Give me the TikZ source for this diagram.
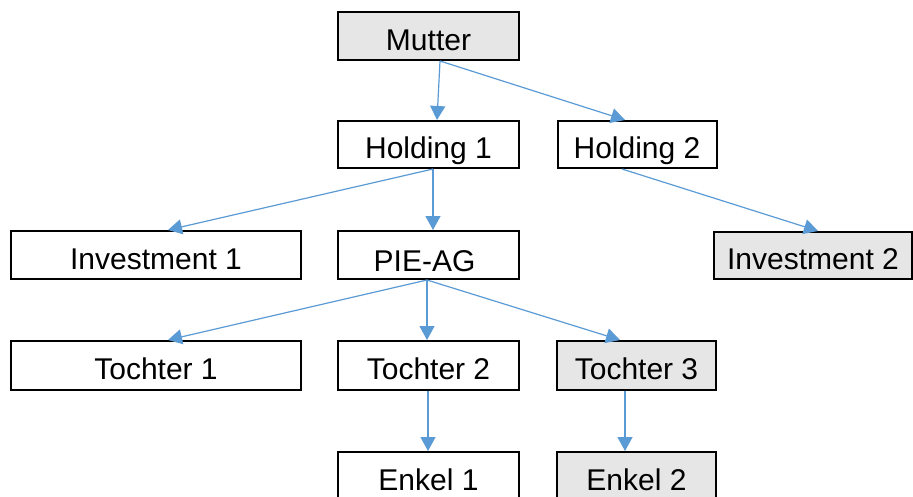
\documentclass[tikz,border=0pt]{standalone}
\usepackage{fontspec}
\setmainfont{Liberation Sans}
\usetikzlibrary{arrows.meta}
\definecolor{boxgray}{HTML}{E6E6E6}
\definecolor{linkblue}{HTML}{5B9BD5}
\tikzset{
  box/.style={draw=black, line width=2pt, inner sep=0pt, font=\fontsize{30}{30}\selectfont,
    text height=28pt, text depth=0pt, minimum height=47pt},
  unit/.style={box, fill=white},
  shaded/.style={box, fill=boxgray},
  link/.style={draw=linkblue, line width=1.2pt, -{Triangle[length=14pt,width=15pt]}}
}
\begin{document}
\begin{tikzpicture}[x=1pt,y=-1pt]
\useasboundingbox (0,0) rectangle (913,496);
\clip (0,0) rectangle (913,496);
\fill[white] (0,0) rectangle (913,496);
% company boxes
\node[shaded, minimum width=181pt, minimum height=48pt] (mutter) at (428.5,36) {Mutter};
\node[unit, minimum width=181pt] (h1) at (428.5,144.5) {Holding 1};
\node[unit, minimum width=159pt] (h2) at (637,144.5) {Holding 2};
\node[unit, minimum width=290pt, minimum height=48pt] (inv1) at (156,255) {Investment 1};
\node[unit, minimum width=181pt, minimum height=48pt] (pie) at (428.5,255) {\raisebox{-2pt}{PIE-AG}\hspace*{8pt}};
\node[shaded, minimum width=198pt] (inv2) at (813,255.5) {Investment 2};
\node[unit, minimum width=290pt, minimum height=49pt] (t1) at (156,365.5) {Tochter 1};
\node[unit, minimum width=181pt, minimum height=49pt] (t2) at (428.5,365.5) {Tochter 2};
\node[shaded, minimum width=159pt, minimum height=49pt] (t3) at (636.5,365.5) {Tochter 3};
\node[unit, minimum width=181pt, minimum height=48pt] (e1) at (428.5,476) {Enkel 1};
\node[shaded, minimum width=159pt, minimum height=48pt] (e2) at (636.5,476) {Enkel 2};
% ownership links
\draw[link] ([xshift=11.5pt]mutter.south) -- ([xshift=8.5pt]h1.north);
\draw[link] ([xshift=11.5pt]mutter.south) -- ([xshift=-12pt]h2.north);
\draw[link] ([xshift=4.5pt]h1.south) -- ([xshift=12pt]inv1.north);
\draw[link] ([xshift=4.5pt]h1.south) -- ([xshift=4.5pt]pie.north);
\draw[link] ([xshift=-15pt]h2.south) -- ([xshift=5pt]inv2.north);
\draw[link] ([xshift=-1.5pt]pie.south) -- ([xshift=12pt]t1.north);
\draw[link] ([xshift=-1.5pt]pie.south) -- ([xshift=-1.5pt]t2.north);
\draw[link] ([xshift=-1.5pt]pie.south) -- ([xshift=-16.5pt]t3.north);
\draw[link] ([xshift=-0.5pt]t2.south) -- ([xshift=-0.5pt]e1.north);
\draw[link] ([xshift=-11.5pt]t3.south) -- ([xshift=-11.5pt]e2.north);
\end{tikzpicture}
\end{document}
